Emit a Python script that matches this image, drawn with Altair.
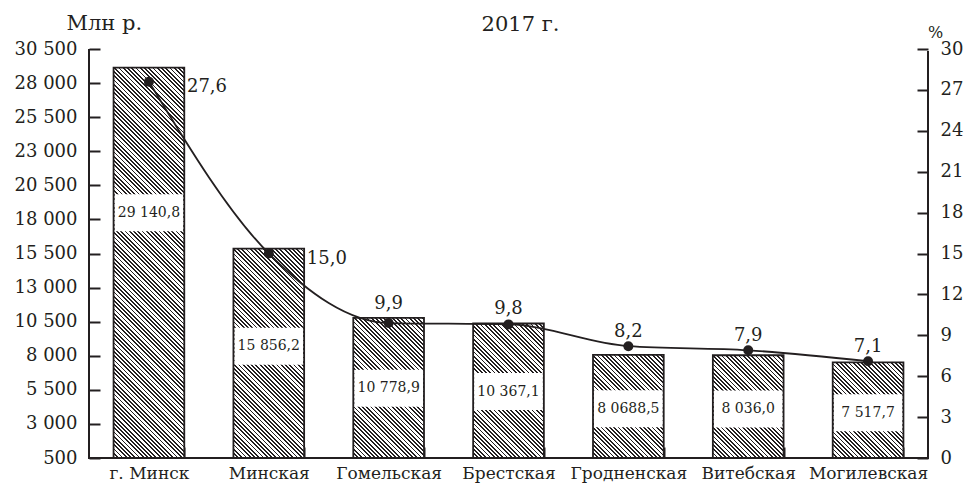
import math
import altair as alt
import pandas as pd

# ---- data ----
categories = ["г. Минск", "Минская", "Гомельская", "Брестская",
              "Гродненская", "Витебская", "Могилевская"]
values = [29140.8, 15856.2, 10778.9, 10367.1, 8068.5, 8036.0, 7517.7]
value_labels = ["29 140,8", "15 856,2", "10 778,9", "10 367,1",
                "8 0688,5", "8 036,0", "7 517,7"]
shares = [27.6, 15.0, 9.9, 9.8, 8.2, 7.9, 7.1]
share_labels = ["27,6", "15,0", "9,9", "9,8", "8,2", "7,9", "7,1"]
left_ticks = [500, 3000, 5500, 8000, 10500, 13000, 15500, 18000,
              20500, 23000, 25500, 28000, 30500]
right_ticks = [0, 3, 6, 9, 12, 15, 18, 21, 24, 27, 30]

# ---- styling / layout ----
W, H = 839, 409
PAD = {"left": 81, "top": 41, "right": 36, "bottom": 28}
Y_MIN, Y_MAX = 500, 30500
FONT = "DejaVu Serif"
INK = "#231f20"
PAD_INNER, PAD_OUTER = 0.41, 0.205
step = W / (len(categories) - PAD_INNER + 2 * PAD_OUTER)
BW = step * (1 - PAD_INNER)

df = pd.DataFrame({
    "cat": categories, "value": values, "vlabel": value_labels,
    "share": shares, "slabel": share_labels, "idx": list(range(len(categories))),
})


def hatch(w, h, period=3.0, dark=0.42):
    """Diagonal hatching drawn as a hard-stop linear gradient (45 deg)."""
    L = (w + h) / math.sqrt(2)
    n = L / period
    stops = []
    k = 0
    while k < n:
        a = min(k / n, 1)
        b = min((k + dark) / n, 1)
        c = min((k + 1) / n, 1)
        stops += [{"offset": a, "color": INK}, {"offset": b, "color": INK},
                  {"offset": b, "color": "white"}, {"offset": c, "color": "white"}]
        k += 1
    s = (w + h) / (w * w + h * h)
    return {"gradient": "linear", "x1": 0, "y1": 1, "x2": s * w, "y2": 1 - s * h,
            "stops": stops}


x_enc = alt.X(
    "cat:N", sort=categories, title=None,
    scale=alt.Scale(paddingInner=PAD_INNER, paddingOuter=PAD_OUTER),
    axis=alt.Axis(orient="bottom", offset=-11, tickBand="extent", tickSize=11,
                  tickWidth=2, tickColor=INK, domain=False, labelAngle=0,
                  labelFont=FONT, labelFontSize=17, labelColor=INK,
                  labelPadding=7, labelOverlap=False, labelBaseline="top"),
)

left_scale = alt.Scale(domain=[Y_MIN, Y_MAX], nice=False, zero=False)
left_axis = alt.Axis(
    orient="left", offset=-11, values=left_ticks, tickSize=11, tickWidth=2,
    tickColor=INK, domain=False, grid=False,
    labelExpr="replace(format(datum.value, ','), ',', ' ')",
    labelFont=FONT, labelFontSize=18, labelColor=INK, labelPadding=12,
    title="Млн р.", titleAngle=0, titleAlign="left", titleBaseline="alphabetic",
    titleX=-34, titleY=-20, titleFont=FONT, titleFontSize=21,
    titleFontWeight="normal", titleColor=INK,
)
right_scale = alt.Scale(domain=[0, 30], nice=False, zero=True)
right_axis = alt.Axis(
    orient="right", offset=-11, values=right_ticks, tickSize=11, tickWidth=2,
    tickColor=INK, domain=False, grid=False,
    labelFont=FONT, labelFontSize=18, labelColor=INK, labelPadding=12,
    title="%", titleAngle=0, titleAlign="center", titleBaseline="middle",
    titleX=18, titleY=-17, titleFont=FONT, titleFontSize=16,
    titleFontWeight="normal", titleColor=INK,
)

base = alt.Chart(df)
pos_expr = "500 + (datum.value - 500) * (0.42 + datum.value / 140000)"

# hatched bars, one layer per bar (each needs its own gradient geometry)
bar_layers = []
for i, v in enumerate(values):
    h = (v - Y_MIN) / (Y_MAX - Y_MIN) * H
    bar_layers.append(
        base.transform_filter(alt.datum.idx == i)
        .mark_bar(fill=hatch(BW, h), strokeWidth=0)
        .encode(x=x_enc, y=alt.Y("value:Q", scale=left_scale, axis=left_axis),
                y2=alt.Y2Datum(Y_MIN))
    )

boxes = base.transform_calculate(pos=pos_expr).mark_tick(
    color="white", thickness=37, size=BW - 2, opacity=1
).encode(x=x_enc, y=alt.Y("pos:Q", scale=left_scale, axis=left_axis))

outlines = base.mark_bar(fillOpacity=0, stroke=INK, strokeWidth=1.8).encode(
    x=x_enc, y=alt.Y("value:Q", scale=left_scale, axis=left_axis),
    y2=alt.Y2Datum(Y_MIN))

box_text = base.transform_calculate(pos=pos_expr).mark_text(
    font=FONT, fontSize=14, color=INK, baseline="middle"
).encode(x=x_enc, y=alt.Y("pos:Q", scale=left_scale, axis=left_axis),
         text="vlabel:N")

one = alt.Chart(alt.Data(values=[{}]))
rule_left = one.mark_rule(color=INK, strokeWidth=2).encode(
    x=alt.value(0), y=alt.value(0), y2=alt.value(H + 1))
rule_right = one.mark_rule(color=INK, strokeWidth=2).encode(
    x=alt.value(W), y=alt.value(2), y2=alt.value(H + 1))
rule_bottom = one.mark_rule(color=INK, strokeWidth=2).encode(
    y=alt.value(H), x=alt.value(-1), x2=alt.value(W + 1))
year_title = one.mark_text(
    text="2017 г.", font=FONT, fontSize=21, color=INK,
    align="center", baseline="alphabetic"
).encode(x=alt.value(W / 2 + 12), y=alt.value(-18))

left = alt.layer(*bar_layers, boxes, outlines, box_text,
                 rule_left, rule_right, rule_bottom, year_title)

y_share = alt.Y("share:Q", scale=right_scale, axis=right_axis)
line = base.mark_line(interpolate="monotone", color=INK, strokeWidth=1.8).encode(
    x=x_enc, y=y_share)
points = base.mark_circle(size=100, color=INK, opacity=1).encode(x=x_enc, y=y_share)
side_labels = base.transform_filter(alt.datum.idx < 2).mark_text(
    font=FONT, fontSize=18, color=INK, align="left", baseline="alphabetic",
    dx=38, dy=10
).encode(x=x_enc, y=y_share, text="slabel:N")
# labels of the other regions sit above whichever is higher: the bar top or the point
# (right scale 0..30 spans the same pixels as left scale 500..30500)
top_labels = base.transform_filter(alt.datum.idx >= 2).transform_calculate(
    lab="max(datum.share, (datum.value - 500) / 1000)"
).mark_text(
    font=FONT, fontSize=18, color=INK, baseline="alphabetic", dy=-9
).encode(x=x_enc, y=alt.Y("lab:Q", scale=right_scale, axis=right_axis),
         text="slabel:N")

right = alt.layer(line, points, side_labels, top_labels)

chart = (
    alt.layer(left, right)
    .resolve_scale(y="independent")
    .properties(
        width=W, height=H,
        autosize=alt.AutoSizeParams(type="none"),
        padding=PAD,
    )
    .configure_view(stroke=None)
)

chart.save("out.html", embed_options={"renderer": "svg", "actions": False})
